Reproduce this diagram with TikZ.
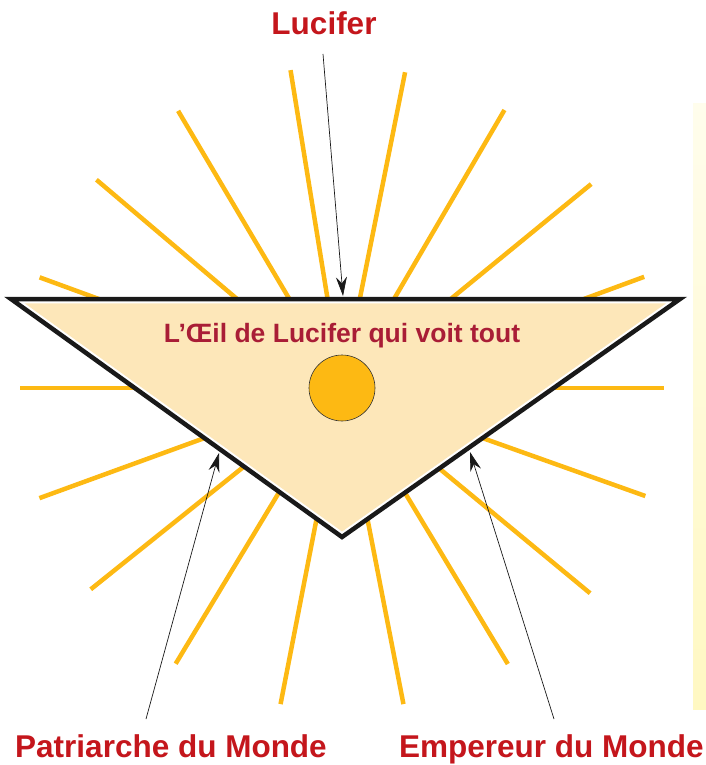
\documentclass[tikz,border=0pt]{standalone}
\usepackage{fontspec}
\setmainfont{Liberation Sans}
\usepackage{xcolor}
\usepackage{tikz}
\usetikzlibrary{arrows.meta,calc}
\definecolor{RayGold}{HTML}{FDB913}
\definecolor{EyePeach}{HTML}{FDE7B9}
\definecolor{LabelRed}{HTML}{C4161C}
\definecolor{EyeRed}{HTML}{A91D36}
\definecolor{StripTop}{HTML}{FFFDEC}
\definecolor{StripBottom}{HTML}{FFF8C2}

\begin{document}
\begin{tikzpicture}[
  x=1pt, y=-1pt,
  ray/.style={draw=RayGold, line width=4.5pt},
  rim/.style={draw=black!90, line width=4.5pt, line join=miter},
  label/.style={text=LabelRed, font=\bfseries\fontsize{31.5}{36}\selectfont, inner sep=0pt, anchor=base},
  pointer/.style={-{Stealth[length=19pt, width=11pt]}, draw=black!90, line width=0.7pt}
]
\useasboundingbox (0,0) rectangle (706,765);
\clip (0,0) rectangle (706,765);
% pale strip on the right
\shade[top color=StripTop, bottom color=StripBottom] (693,104) rectangle (706,709);
% triangle corners and centre of the eye
\coordinate (tl) at (11,299);
\coordinate (tr) at (680,299);
\coordinate (bt) at (342,537);
\coordinate (sun) at (342,388);
\coordinate (inc) at (342.6,405.9);
% rays
\foreach \a in {0,20.2,39.3,59.7,78.7,99.2,120.6,139.7,159.9,180,200,218.7,238.9,259,281,301,320.4,340.4}
  \draw[ray] ($(sun)+(-\a:60)$) -- ($(sun)+(-\a:322)$);
% the triangle
\fill[white] (tl) -- (tr) -- (bt) -- cycle;
\fill[EyePeach] ($(inc)!0.958!(tl)$) -- ($(inc)!0.958!(tr)$) -- ($(inc)!0.958!(bt)$) -- cycle;
\draw[rim] (tl) -- (tr) -- (bt) -- cycle;
\node[circle, draw=black!80, line width=0.6pt, fill=RayGold, minimum size=66pt, inner sep=0pt] (eye) at (sun) {};
\node[text=EyeRed, font=\bfseries\fontsize{26.5}{30}\selectfont, inner sep=0pt, anchor=base] (motto) at (342,342)
  {L’Œil de Lucifer qui voit tout};

% labels
\node[label] (lucifer) at (324,35) {Lucifer};
\node[label] (patriarche) at (171,757) {Patriarche du Monde};
\node[label, anchor=base west] (empereur) at (399,757) {Empereur du Monde};

\coordinate (lucTail) at (323,54);
\coordinate (lucTip) at (343,296);
\coordinate (patTail) at (146,719);
\coordinate (patTip) at (219,453);
\coordinate (empTail) at (554,719);
\coordinate (empTip) at (470,452);

\draw[pointer] (lucTail) -- (lucTip);
\draw[pointer] (patTail) -- (patTip);
\draw[pointer] (empTail) -- (empTip);
\end{tikzpicture}
\end{document}
